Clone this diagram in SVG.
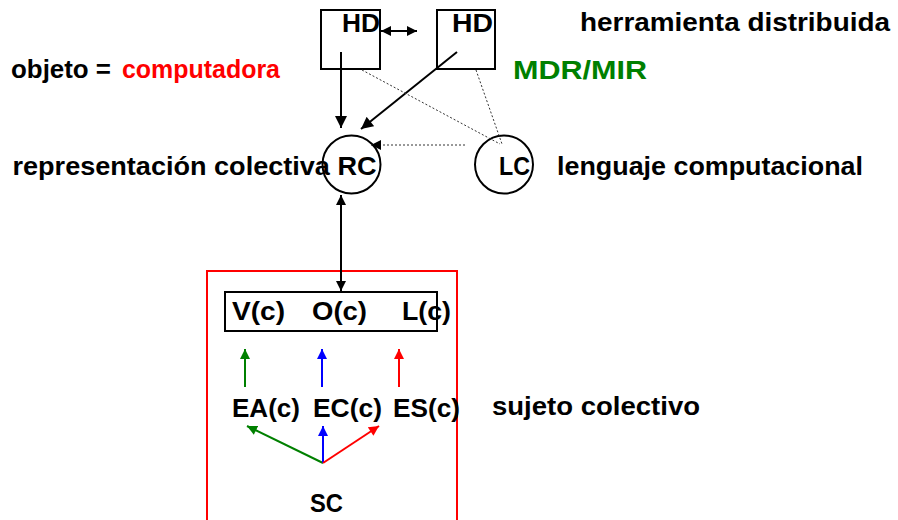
<svg xmlns="http://www.w3.org/2000/svg" width="898" height="520" viewBox="0 0 898 520">
<defs>
<style>
text{font-family:"Liberation Sans",Arial,sans-serif;font-weight:bold;font-size:26px;fill:#000}
.red{fill:#ff0000}
.green{fill:#008000}
.ln{fill:none;stroke:#000;stroke-width:2}
.dot{fill:none;stroke:#333;stroke-width:1;stroke-dasharray:2,2}
</style>
<marker id="ah" viewBox="0 0 10 10" refX="10" refY="5" markerWidth="13" markerHeight="12" markerUnits="userSpaceOnUse" orient="auto-start-reverse"><path d="M0,0 L10,5 L0,10 z" fill="#000"/></marker>
<marker id="ahs" viewBox="0 0 10 10" refX="10" refY="5" markerWidth="11" markerHeight="10" markerUnits="userSpaceOnUse" orient="auto-start-reverse"><path d="M0,0 L10,5 L0,10 z" fill="#000"/></marker>
<marker id="ag" viewBox="0 0 10 10" refX="10" refY="5" markerWidth="11" markerHeight="10" markerUnits="userSpaceOnUse" orient="auto"><path d="M0,0 L10,5 L0,10 z" fill="#008000"/></marker>
<marker id="ab" viewBox="0 0 10 10" refX="10" refY="5" markerWidth="11" markerHeight="10" markerUnits="userSpaceOnUse" orient="auto"><path d="M0,0 L10,5 L0,10 z" fill="#0000ff"/></marker>
<marker id="ar" viewBox="0 0 10 10" refX="10" refY="5" markerWidth="11" markerHeight="10" markerUnits="userSpaceOnUse" orient="auto"><path d="M0,0 L10,5 L0,10 z" fill="#ff0000"/></marker>
</defs>
<rect width="898" height="520" fill="#fff"/>

<g id="hd1">
<rect x="321" y="10" width="59" height="59" class="ln"/>
<text x="342" y="32" textLength="38" lengthAdjust="spacingAndGlyphs">HD</text>
</g>
<g id="hd2">
<rect x="437" y="10" width="58" height="59" class="ln"/>
<text x="452" y="32" textLength="41" lengthAdjust="spacingAndGlyphs">HD</text>
</g>
<g id="rc">
<circle cx="351.5" cy="164.5" r="29" class="ln"/>
<text x="12.5" y="175" textLength="364" lengthAdjust="spacingAndGlyphs">representación colectiva RC</text>
</g>
<g id="lc">
<circle cx="504" cy="164.5" r="29" class="ln"/>
<text x="499" y="175" textLength="31" lengthAdjust="spacingAndGlyphs">LC</text>
</g>
<g id="labels">
<text x="580" y="31" textLength="310" lengthAdjust="spacingAndGlyphs">herramienta distribuida</text>
<text x="513" y="79" class="green" textLength="134" lengthAdjust="spacingAndGlyphs">MDR/MIR</text>
<text x="11" y="78" textLength="100" lengthAdjust="spacingAndGlyphs">objeto =</text>
<text x="122" y="78" class="red" textLength="158" lengthAdjust="spacingAndGlyphs">computadora</text>
<text x="557" y="175" textLength="306" lengthAdjust="spacingAndGlyphs">lenguaje computacional</text>
<text x="492" y="415" textLength="208" lengthAdjust="spacingAndGlyphs">sujeto colectivo</text>
</g>
<g id="sc">
<rect x="207" y="271" width="250" height="260" fill="none" stroke="#ff0000" stroke-width="2"/>
<text x="310" y="512" textLength="33" lengthAdjust="spacingAndGlyphs">SC</text>
</g>
<g id="voc">
<rect x="225" y="292" width="212" height="39" class="ln"/>
<text x="232" y="320" textLength="53" lengthAdjust="spacingAndGlyphs">V(c)</text>
<text x="312" y="320" textLength="55" lengthAdjust="spacingAndGlyphs">O(c)</text>
<text x="402" y="320" textLength="49" lengthAdjust="spacingAndGlyphs">L(c)</text>
</g>
<g id="e">
<text x="232" y="417" textLength="68" lengthAdjust="spacingAndGlyphs">EA(c)</text>
<text x="313" y="417" textLength="69" lengthAdjust="spacingAndGlyphs">EC(c)</text>
<text x="393" y="417" textLength="67" lengthAdjust="spacingAndGlyphs">ES(c)</text>
</g>

<g id="connectors">
<line x1="381" y1="31" x2="417" y2="31" stroke="#000" stroke-width="2" marker-start="url(#ahs)" marker-end="url(#ahs)"/>
<line x1="341" y1="52" x2="341" y2="128" stroke="#000" stroke-width="2" marker-end="url(#ah)"/>
<line x1="457" y1="52" x2="361" y2="129" stroke="#000" stroke-width="2" marker-end="url(#ah)"/>
<line x1="362" y1="70" x2="500" y2="144" class="dot"/>
<line x1="476" y1="70" x2="502" y2="144" class="dot"/>
<line x1="465" y1="145" x2="371" y2="145" class="dot" marker-end="url(#ahs)"/>
<line x1="341" y1="195" x2="341" y2="291" stroke="#000" stroke-width="2" marker-start="url(#ahs)" marker-end="url(#ahs)"/>
<line x1="245" y1="387" x2="245" y2="349" stroke="#008000" stroke-width="2" marker-end="url(#ag)"/>
<line x1="322" y1="387" x2="322" y2="349" stroke="#0000ff" stroke-width="2" marker-end="url(#ab)"/>
<line x1="399" y1="387" x2="399" y2="349" stroke="#ff0000" stroke-width="2" marker-end="url(#ar)"/>
<line x1="323" y1="463" x2="247" y2="426" stroke="#008000" stroke-width="2" marker-end="url(#ag)"/>
<line x1="323" y1="463" x2="323" y2="426" stroke="#0000ff" stroke-width="2" marker-end="url(#ab)"/>
<line x1="323" y1="463" x2="379" y2="426" stroke="#ff0000" stroke-width="2" marker-end="url(#ar)"/>
</g>
</svg>
